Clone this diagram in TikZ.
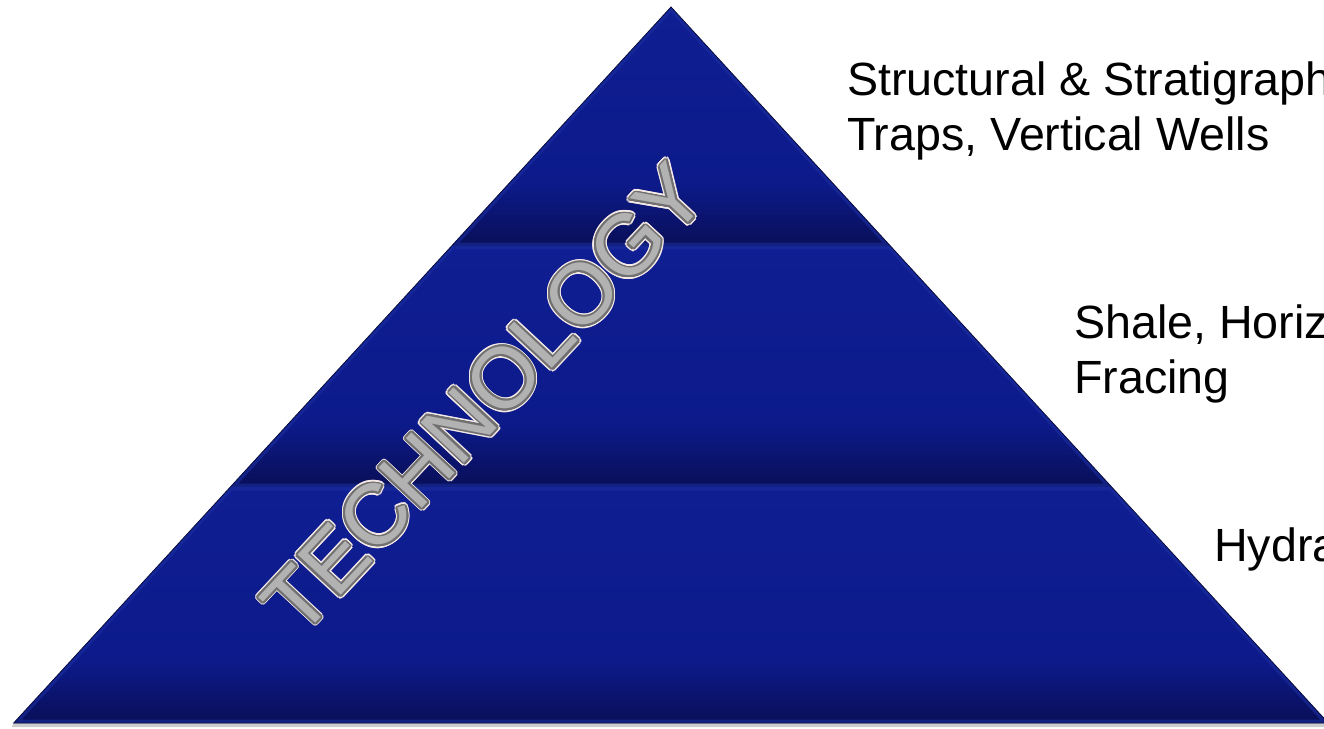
\documentclass[tikz,border=0pt]{standalone}
\usepackage{fontspec}
\setmainfont{Liberation Sans}
\definecolor{bandmid}{RGB}{12,26,138}
\definecolor{bandtop}{RGB}{15,30,146}
\definecolor{banddark}{RGB}{9,15,88}
\definecolor{bandhi}{RGB}{72,102,222}
\definecolor{bandedge}{RGB}{8,12,60}
\definecolor{techfill}{RGB}{178,178,178}
\definecolor{techring}{RGB}{112,112,112}
\definecolor{techhalo}{RGB}{246,234,232}
\pgfdeclareverticalshading{bandshade}{100bp}{color(0bp)=(banddark); color(25bp)=(banddark); color(31bp)=(banddark!55!bandmid); color(38bp)=(bandmid); color(75bp)=(bandtop); color(100bp)=(bandtop)}
\begin{document}
\begin{tikzpicture}[x=1pt,y=-1pt,
  lbl/.style={font=\fontsize{46.6}{55}\selectfont, align=left, inner sep=0pt, anchor=base west, text=black},
  tech/.style={font=\fontsize{86}{90}\selectfont, inner sep=0pt, rotate=47},
  bandfill/.style={shading=bandshade},
  hiline/.style={bandhi, line width=4pt},
  hisoft/.style={bandhi!45!bandmid, line width=3pt}]
\useasboundingbox (0,0) rectangle (1324,728);
\clip (0,0) rectangle (1324,728);
% key points
\coordinate (apex) at (671,7);
\coordinate (l1) at (451.6,246);
\coordinate (r1) at (890.4,246);
\coordinate (l2) at (230.4,487);
\coordinate (r2) at (1111.6,487);
\coordinate (l3) at (13.7,723);
\coordinate (r3) at (1328.3,723);
% base shadow
\fill[gray!40] (l3) -- (r3) -- ([shift={(2,4)}]r3) -- ([shift={(-2,4)}]l3) -- cycle;
% top band
\begin{scope}
  \clip (apex) -- (r1) -- (l1) -- cycle;
  \shade[bandfill] (apex) -- (r1) -- (l1) -- cycle;
  \draw[bandmid!75!bandhi, line width=7pt, opacity=0.6] (apex) -- (r1) -- (l1) -- cycle;
\end{scope}
% middle band
\begin{scope}
  \clip (l1) -- (r1) -- (r2) -- (l2) -- cycle;
  \shade[bandfill] (l1) -- (r1) -- (r2) -- (l2) -- cycle;
  \draw[bandmid!75!bandhi, line width=7pt, opacity=0.6] (l1) -- (r1) -- (r2) -- (l2) -- cycle;
  \draw[hisoft] ([yshift=5]l1) -- ([yshift=5]r1);
  \draw[hiline] ([yshift=2]l1) -- ([yshift=2]r1);
\end{scope}
% bottom band
\begin{scope}
  \clip (l2) -- (r2) -- (r3) -- (l3) -- cycle;
  \shade[bandfill] (l2) -- (r2) -- (r3) -- (l3) -- cycle;
  \draw[bandmid!75!bandhi, line width=7pt, opacity=0.6] (l2) -- (r2) -- (r3) -- (l3) -- cycle;
  \draw[hisoft] ([yshift=5]l2) -- ([yshift=5]r2);
  \draw[hiline] ([yshift=2]l2) -- ([yshift=2]r2);
\end{scope}
% outline
\draw[bandedge, line width=0.8pt] (apex) -- (r3) -- (l3) -- cycle;
% TECHNOLOGY lettering
\coordinate (techc) at (484,399);
\foreach \a [count=\i] in {0,22.5,...,337.5}
  \node[tech, text=techhalo, xshift={3.3*cos(\a)}, yshift={3.3*sin(\a)}] (halo\i) at (techc) {TECHNOLOGY};
\foreach \a [count=\i] in {0,22.5,...,337.5}
  \node[tech, text=techring, xshift={1.9*cos(\a)}, yshift={1.9*sin(\a)}] (ring\i) at (techc) {TECHNOLOGY};
\node[tech, text=techfill] (tech) at (techc) {TECHNOLOGY};
% labels
\node[lbl] (lab1) at (847,150) {Structural \& Stratigraph\\Traps, Vertical Wells};
\node[lbl] (lab2) at (1074,393) {Shale, Horiz\\Fracing};
\node[lbl] (lab3) at (1214,561) {Hydra};
\end{tikzpicture}
\end{document}
